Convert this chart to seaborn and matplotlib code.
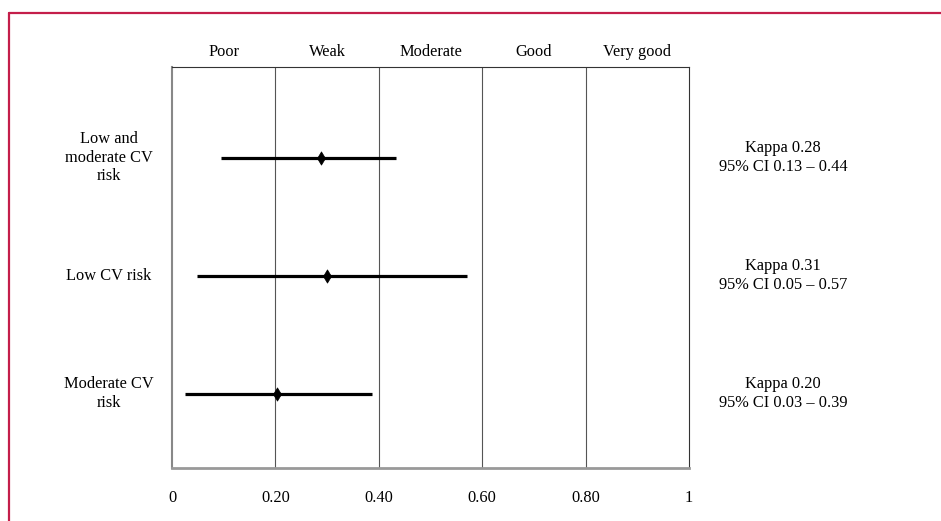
import seaborn as sns
import pandas as pd
import numpy as np
import matplotlib.pyplot as plt
from matplotlib.transforms import blended_transform_factory
from matplotlib.lines import Line2D

groups = ['Low and\nmoderate CV\nrisk', 'Low CV risk', 'Moderate CV\nrisk']
kappa = [0.288, 0.30, 0.203]
ci_lo = [0.094, 0.049, 0.026]
ci_hi = [0.434, 0.571, 0.387]
notes = ['Kappa 0.28\n95% CI 0.13 \u2013 0.44',
         'Kappa 0.31\n95% CI 0.05 \u2013 0.57',
         'Kappa 0.20\n95% CI 0.03 \u2013 0.39']
bands = ['Poor', 'Weak', 'Moderate', 'Good', 'Very good']
band_mid = [0.1, 0.3, 0.5, 0.7, 0.9]
xticks = [0, 0.2, 0.4, 0.6, 0.8, 1]
xticklabels = ['0', '0.20', '0.40', '0.60', '0.80', '1']

df = pd.DataFrame({'group': groups, 'kappa': kappa, 'lo': ci_lo, 'hi': ci_hi})
df['row'] = np.arange(len(df))

sns.set_style('white')
plt.rcParams['font.family'] = ['Liberation Serif', 'DejaVu Serif']
plt.rcParams['text.color'] = 'black'
plt.rcParams['xtick.color'] = 'black'

fig = plt.figure(figsize=(9.41, 5.21), dpi=100)
ax = fig.add_axes([0.1828, 0.1017, 0.5494, 0.7697])

# reference lines between bands
for x in [0.2, 0.4, 0.6, 0.8]:
    ax.axvline(x, color='#555555', lw=0.8, zorder=0)

ax.hlines(df['row'], df['lo'], df['hi'], color='black', lw=2.3, zorder=2)
sns.scatterplot(data=df, x='kappa', y='row', marker='d', s=45, color='black',
                edgecolor='black', ax=ax, zorder=3, legend=False)

ax.set_xlim(0, 1)
ax.set_ylim(2.63, -0.77)
ax.set_xticks(xticks)
ax.set_xticklabels(xticklabels, fontsize=11.8)
ax.set_yticks([])
ax.set_xlabel('')
ax.set_ylabel('')
ax.tick_params(axis='x', length=0, pad=16, labelcolor='black')

for side in ['top', 'right']:
    ax.spines[side].set_color('#333333')
    ax.spines[side].set_linewidth(0.8)
ax.spines['left'].set_color('#888888')
ax.spines['left'].set_linewidth(1.5)
ax.spines['bottom'].set_color('#999999')
ax.spines['bottom'].set_linewidth(2)

top = ax.secondary_xaxis('top')
top.set_xticks(band_mid)
top.set_xticklabels(bands, fontsize=11.8)
top.tick_params(length=0, pad=5, labelcolor='black')
top.spines['top'].set_visible(False)

tr = blended_transform_factory(ax.transAxes, ax.transData)
for i, (g, n) in enumerate(zip(groups, notes)):
    ax.text(-0.122, i, g, transform=tr, ha='center', va='center',
            fontsize=11.8, linespacing=1.22, color='black')
    ax.text(1.182, i, n, transform=tr, ha='center', va='center',
            fontsize=11.8, linespacing=1.22, color='black')

# frame around the figure
red = '#C41E4A'
fig.add_artist(Line2D([0.0095, 1.0], [0.976, 0.976], color=red, lw=1.6,
                      transform=fig.transFigure))
fig.add_artist(Line2D([0.0095, 0.0095], [0.0, 0.976], color=red, lw=1.6,
                      transform=fig.transFigure))

fig.savefig('out.png', dpi=100)
